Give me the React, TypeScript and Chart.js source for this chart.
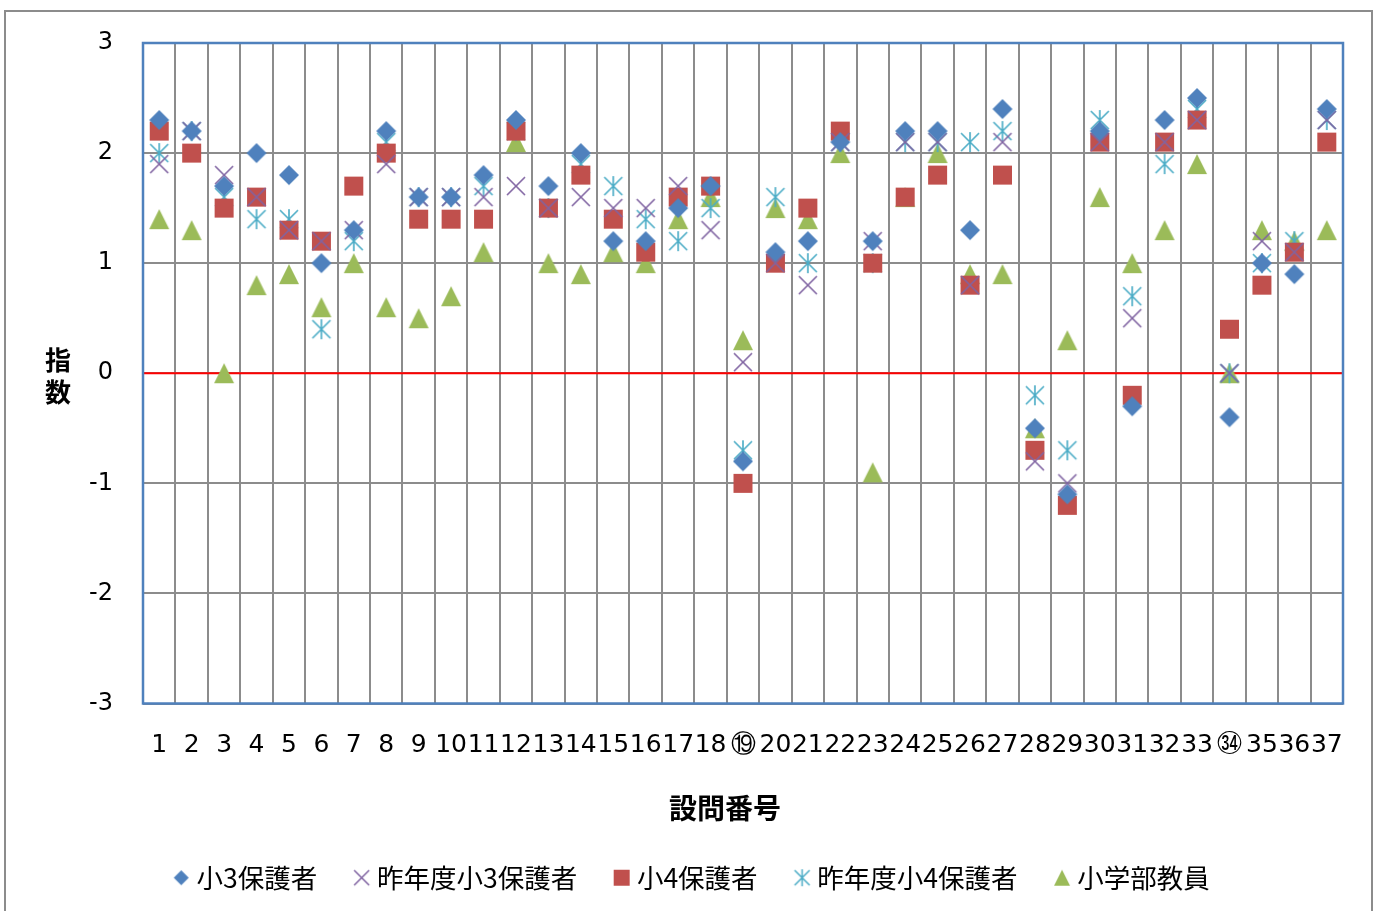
import React, { useEffect, useRef } from "react";
import { Chart, registerables } from "chart.js";

Chart.register(...registerables);

const categories = [
  "1", "2", "3", "4", "5", "6", "7", "8", "9", "10",
  "11", "12", "13", "14", "15", "16", "17", "18", "⑲", "20",
  "21", "22", "23", "24", "25", "26", "27", "28", "29", "30",
  "31", "32", "33", "㉞", "35", "36", "37",
];

const seriesNames = ["小3保護者", "昨年度小3保護者", "小4保護者", "昨年度小4保護者", "小学部教員"];

const sho3 = [2.3, 2.2, 1.7, 2.0, 1.8, 1.0, 1.3, 2.2, 1.6, 1.6, 1.8, 2.3, 1.7, 2.0, 1.2, 1.2, 1.5, 1.7, -0.8, 1.1, 1.2, 2.1, 1.2, 2.2, 2.2, 1.3, 2.4, -0.5, -1.1, 2.2, -0.3, 2.3, 2.5, -0.4, 1.0, 0.9, 2.4];
const prevSho3 = [1.9, 2.2, 1.8, 1.6, 1.3, 1.2, 1.3, 1.9, 1.6, 1.6, 1.6, 1.7, 1.5, 1.6, 1.5, 1.5, 1.7, 1.3, 0.1, 1.0, 0.8, 2.1, 1.2, 2.1, 2.1, 0.8, 2.1, -0.8, -1.0, 2.1, 0.5, 2.1, 2.3, 0.0, 1.2, 1.1, 2.3];
const sho4 = [2.2, 2.0, 1.5, 1.6, 1.3, 1.2, 1.7, 2.0, 1.4, 1.4, 1.4, 2.2, 1.5, 1.8, 1.4, 1.1, 1.6, 1.7, -1.0, 1.0, 1.5, 2.2, 1.0, 1.6, 1.8, 0.8, 1.8, -0.7, -1.2, 2.1, -0.2, 2.1, 2.3, 0.4, 0.8, 1.1, 2.1];
const prevSho4 = [2.0, 2.2, 1.6, 1.4, 1.4, 0.4, 1.2, 2.1, 1.6, 1.6, 1.7, 2.2, 1.5, 1.9, 1.7, 1.4, 1.2, 1.5, -0.7, 1.6, 1.0, 2.1, 1.0, 2.1, 2.1, 2.1, 2.2, -0.2, -0.7, 2.3, 0.7, 1.9, 2.4, 0.0, 1.0, 1.2, 2.3];
const teachers = [1.4, 1.3, 0.0, 0.8, 0.9, 0.6, 1.0, 0.6, 0.5, 0.7, 1.1, 2.1, 1.0, 0.9, 1.1, 1.0, 1.4, 1.6, 0.3, 1.5, 1.4, 2.0, -0.9, 1.6, 2.0, 0.9, 0.9, -0.5, 0.3, 1.6, 1.0, 1.3, 1.9, 0.0, 1.3, 1.2, 1.3];

const yTicks = [-3, -2, -1, 0, 1, 2, 3];

const xTitle = "設問番号";
const yTitle = ["指", "数"];

const colors = ["#4F81BD", "#8064A2", "#C0504D", "#4BACC6", "#9BBB59"];
const kinds = ["diamond", "x", "square", "asterisk", "triangle"];

function makeMarker(kind: string, color: string, size: number): HTMLCanvasElement {
  const pad = 3;
  const dim = size + pad * 2;
  const c = document.createElement("canvas");
  c.width = dim;
  c.height = dim;
  const ctx = c.getContext("2d")!;
  const m = dim / 2;
  const h = size / 2;
  ctx.fillStyle = color;
  ctx.strokeStyle = color;
  ctx.lineWidth = Math.max(1.5, size / 11);
  ctx.lineCap = "butt";
  if (kind === "diamond") {
    ctx.beginPath();
    ctx.moveTo(m, m - h);
    ctx.lineTo(m + h, m);
    ctx.lineTo(m, m + h);
    ctx.lineTo(m - h, m);
    ctx.closePath();
    ctx.fill();
  } else if (kind === "square") {
    ctx.fillRect(m - h, m - h, size, size);
  } else if (kind === "triangle") {
    ctx.beginPath();
    ctx.moveTo(m, m - h);
    ctx.lineTo(m + h, m + h);
    ctx.lineTo(m - h, m + h);
    ctx.closePath();
    ctx.fill();
  } else if (kind === "x") {
    ctx.beginPath();
    ctx.moveTo(m - h, m - h);
    ctx.lineTo(m + h, m + h);
    ctx.moveTo(m + h, m - h);
    ctx.lineTo(m - h, m + h);
    ctx.stroke();
  } else if (kind === "asterisk") {
    ctx.beginPath();
    ctx.moveTo(m - h, m - h);
    ctx.lineTo(m + h, m + h);
    ctx.moveTo(m + h, m - h);
    ctx.lineTo(m - h, m + h);
    ctx.moveTo(m, m - h - 1);
    ctx.lineTo(m, m + h + 1);
    ctx.stroke();
  }
  return c;
}

export default function App() {
  const canvasRef = useRef<HTMLCanvasElement | null>(null);

  useEffect(() => {
    if (!canvasRef.current) return;
    const plotSizes = [20, 18, 19, 18, 20];
    const legendSizes = [15, 15, 16, 15, 16];
    const plotMarkers = kinds.map((k, i) => makeMarker(k, colors[i], plotSizes[i]));
    const legendMarkers = kinds.map((k, i) => makeMarker(k, colors[i], legendSizes[i]));
    const seriesValues = [sho3, prevSho3, sho4, prevSho4, teachers];

    const frame = {
      id: "frameAndTitle",
      beforeDatasetsDraw(chart: any) {
        const { ctx, chartArea, scales } = chart;
        ctx.save();
        const y0 = scales.y.getPixelForValue(0);
        ctx.strokeStyle = "#FF0000";
        ctx.lineWidth = 2;
        ctx.beginPath();
        ctx.moveTo(chartArea.left, y0);
        ctx.lineTo(chartArea.right, y0);
        ctx.stroke();
        ctx.strokeStyle = "#4F81BD";
        ctx.lineWidth = 2.5;
        ctx.strokeRect(chartArea.left, chartArea.top, chartArea.right - chartArea.left, chartArea.bottom - chartArea.top);
        ctx.restore();
      },
      afterDraw(chart: any) {
        const { ctx } = chart;
        ctx.save();
        ctx.fillStyle = "#000";
        ctx.textAlign = "center";
        ctx.textBaseline = "middle";
        ctx.font = "bold 26px 'Noto Sans CJK JP'";
        ctx.fillText(yTitle[0], 52, 348);
        ctx.fillText(yTitle[1], 52, 380);
        ctx.font = "bold 28px 'Noto Sans CJK JP'";
        ctx.fillText(xTitle, 719, 796);
        ctx.restore();
      },
    };

    const chart = new Chart(canvasRef.current, {
      type: "line",
      data: {
        labels: categories,
        datasets: seriesNames.map((name, i) => ({
          label: name,
          data: seriesValues[i],
          showLine: false,
          pointStyle: plotMarkers[i] as any,
          pointRadius: 10,
          pointHoverRadius: 10,
          borderColor: colors[i],
          backgroundColor: colors[i],
          yAxisID: "y",
        })),
      },
      options: {
        animation: false,
        responsive: false,
        maintainAspectRatio: false,
        layout: { padding: { top: 31, right: 0, left: 12, bottom: 10 } },
        plugins: {
          tooltip: { enabled: false },
          legend: {
            position: "bottom",
            labels: {
              usePointStyle: true,
              pointStyleWidth: 4,
              padding: 42.5,
              color: "#000",
              font: { family: "'Noto Sans CJK JP'", size: 26.5 },
              generateLabels: (ch: any) => {
                const items = Chart.defaults.plugins.legend.labels.generateLabels(ch);
                return items.map((it: any, i: number) => ({ ...it, pointStyle: legendMarkers[i] }));
              },
            },
          },
        },
        scales: {
          x: {
            type: "category",
            offset: true,
            grid: { offset: true, color: "#8C8C8C", lineWidth: 2, drawTicks: false },
            border: { display: false },
            ticks: {
              color: "#000",
              font: { family: "'DejaVu Sans'", size: 25 },
              maxRotation: 0,
              minRotation: 0,
              autoSkip: false,
              padding: 27,
            },
            afterFit: (scale: any) => {
              scale.height = 118.5;
            },
          },
          y: {
            min: -3,
            max: 3,
            grid: { color: "#8C8C8C", lineWidth: 2, drawTicks: false },
            border: { display: false },
            afterBuildTicks: (scale: any) => {
              scale.ticks = yTicks.map((v) => ({ value: v }));
            },
            ticks: {
              color: "#000",
              font: { family: "'DejaVu Sans'", size: 24 },
              padding: 30,
            },
            afterFit: (scale: any) => {
              scale.width = 125;
              scale.paddingTop = 14;
              scale.paddingBottom = 14;
            },
          },
          yRight: {
            type: "linear",
            position: "right",
            display: true,
            grid: { display: false, drawTicks: false },
            border: { display: false },
            ticks: { display: false },
            afterFit: (scale: any) => {
              scale.width = 28;
              scale.paddingTop = 0;
              scale.paddingBottom = 0;
            },
          },
        },
      },
      plugins: [frame],
    });
    return () => chart.destroy();
  }, []);

  return (
    <div
      style={{
        position: "fixed",
        left: 4,
        top: 10,
        width: 1369,
        height: 901,
        boxSizing: "border-box",
        borderTop: "2px solid #8C8C8C",
        borderLeft: "2px solid #8C8C8C",
        borderRight: "2px solid #8C8C8C",
        background: "#fff",
      }}
    >
      <canvas ref={canvasRef} width={1365} height={899} style={{ display: "block", width: 1365, height: 899 }} />
    </div>
  );
}
